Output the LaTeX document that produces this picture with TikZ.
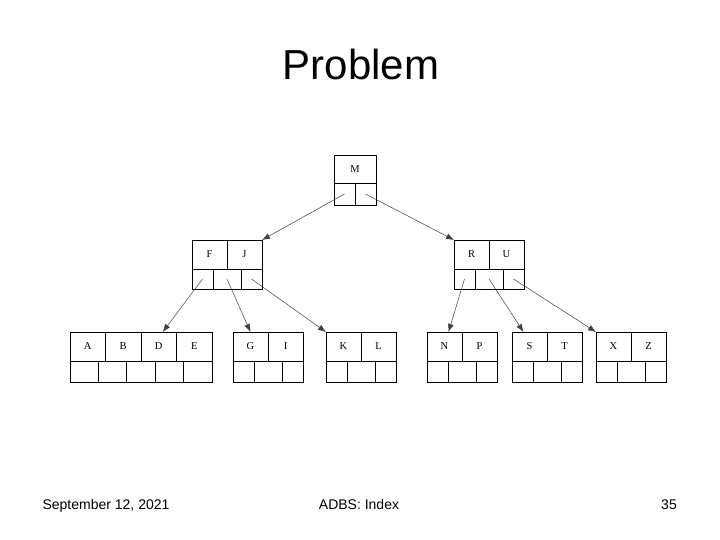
\documentclass[tikz,border=0pt]{standalone}
\usepackage{fontspec}
\setmainfont{Liberation Serif}
\newfontfamily\slidefont{Liberation Sans}
\usetikzlibrary{positioning}
\usetikzlibrary{arrows.meta}

\begin{document}
\begin{tikzpicture}
		[x=1pt, y=-1pt,
		keycell/.style={draw, line width=0.8pt, outer sep=0pt, inner sep=0pt, minimum width=#1, minimum height=29pt, font=\fontsize{10.5}{12}\selectfont},
		keycell/.default=35pt,
		ptrcell/.style={draw, line width=0.8pt, outer sep=0pt, inner sep=0pt, minimum width=#1, minimum height=21pt},
		ptrcell/.default=21pt,
		link/.style={-{Latex[length=8pt, width=6pt]}, line width=0.5pt, black!75},
		slide/.style={anchor=base, font=\slidefont\fontsize{#1}{#1}\selectfont}]
		\useasboundingbox (0,0) rectangle (720,540);

		% title and footer
		\node[slide=42] (title) at (361,80) {Problem};
		\node[slide=14] (date) at (106,509) {September 12, 2021};
		\node[slide=14] (course) at (359,509) {ADBS: Index};
		\node[slide=14] (page) at (669,509) {35};

		% root
		\node[keycell=42pt, minimum height=28pt, anchor=north west] (m-1) at (334,155) {M};
		\node[ptrcell, minimum height=22pt, below right=0pt of m-1.south west] (m-p1) {};
		\node[ptrcell, minimum height=22pt, right=0pt of m-p1] (m-p2) {};

		% inner level
		\node[keycell, anchor=north west] (fj-1) at (192,240) {F};
		\node[keycell, right=0pt of fj-1] (fj-2) {J};
		\node[ptrcell, minimum height=20pt, below right=0pt of fj-1.south west] (fj-p1) {};
		\node[ptrcell=28pt, minimum height=20pt, right=0pt of fj-p1] (fj-p2) {};
		\node[ptrcell, minimum height=20pt, right=0pt of fj-p2] (fj-p3) {};

		\node[keycell, anchor=north west] (ru-1) at (454,240) {R};
		\node[keycell, right=0pt of ru-1] (ru-2) {U};
		\node[ptrcell, minimum height=20pt, below right=0pt of ru-1.south west] (ru-p1) {};
		\node[ptrcell=28pt, minimum height=20pt, right=0pt of ru-p1] (ru-p2) {};
		\node[ptrcell, minimum height=20pt, right=0pt of ru-p2] (ru-p3) {};

		% leaves
		\node[keycell=35.5pt, anchor=north west] (abde-1) at (70,332) {A};
		\node[keycell=35.5pt, right=0pt of abde-1] (abde-2) {B};
		\node[keycell=35.5pt, right=0pt of abde-2] (abde-3) {D};
		\node[keycell=35.5pt, right=0pt of abde-3] (abde-4) {E};
		\node[ptrcell=28.4pt, below right=0pt of abde-1.south west] (abde-p1) {};
		\foreach \i [count=\j from 2] in {1,...,4}
			\node[ptrcell=28.4pt, right=0pt of abde-p\i] (abde-p\j) {};

		\foreach \n/\x/\a/\b in {gi/233/G/I, kl/326/K/L, np/427/N/P, st/512/S/T, xz/596/X/Z} {
			\node[keycell, anchor=north west] (\n-1) at (\x,332) {\a};
			\node[keycell, right=0pt of \n-1] (\n-2) {\b};
			\node[ptrcell, below right=0pt of \n-1.south west] (\n-p1) {};
			\node[ptrcell=28pt, right=0pt of \n-p1] (\n-p2) {};
			\node[ptrcell, right=0pt of \n-p2] (\n-p3) {};
		}

		% pointers
		\draw[link] (m-p1.center) -- (fj-2.north east);
		\draw[link] (m-p2.center) -- (ru-1.north west);
		\draw[link] (fj-p1.center) -- ([xshift=4pt]abde-3.north);
		\draw[link] (fj-p2.center) -- (gi-1.north);
		\draw[link] (fj-p3.center) -- (kl-1.north west);
		\draw[link] (ru-p1.center) -- ([xshift=4pt]np-1.north);
		\draw[link] (ru-p2.center) -- ([xshift=-6pt]st-1.north);
		\draw[link] (ru-p3.center) -- (xz-1.north west);
	\end{tikzpicture}
\end{document}
